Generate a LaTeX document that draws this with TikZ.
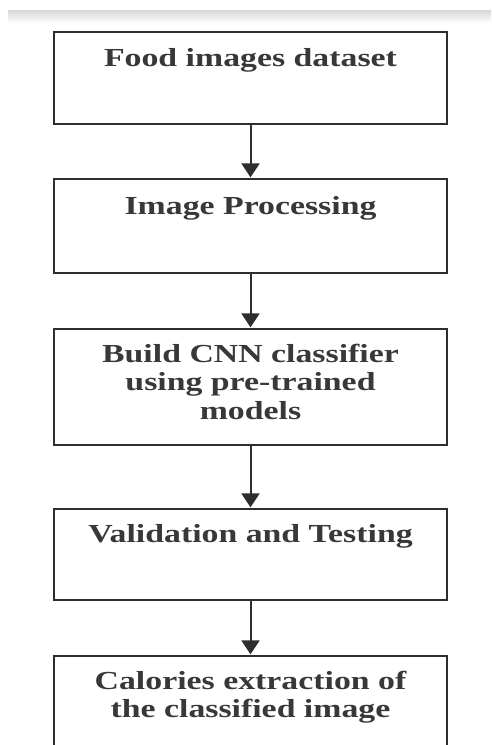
\documentclass[tikz,border=0pt]{standalone}
\usepackage{fontspec}
\setmainfont{Liberation Serif}
\usetikzlibrary{arrows.meta}
\definecolor{ink}{HTML}{2E2E2E}
\definecolor{txt}{HTML}{383838}
\tikzset{
  box/.style={draw=ink, line width=2.3pt, minimum width=393pt, inner sep=0pt, fill=white},
  lbl/.style={anchor=base, inner sep=0pt, text=txt,
    font=\fontsize{26}{28.5}\selectfont\bfseries},
  arr/.style={draw=ink, line width=2pt, -{Triangle[length=14pt,width=18pt]}, shorten >=0.5pt}
}
\newcommand{\wide}[1]{\scalebox{1.30}[1]{\begin{tabular}[t]{@{}c@{}}#1\end{tabular}}}
\begin{document}
\begin{tikzpicture}[x=1pt,y=-1pt]
\useasboundingbox (0,0) rectangle (491,745);
\clip (0,0) rectangle (491,745);
\fill[white] (0,0) rectangle (491,745);
\shade[top color=black!16, bottom color=white] (8,10) rectangle (491,23);
% boxes
\node[box, minimum height=92pt]  (b1) at (250.5,78) {};
\node[box, minimum height=94pt]  (b2) at (250.5,226) {};
\node[box, minimum height=116pt] (b3) at (250.5,387) {};
\node[box, minimum height=91pt]  (b4) at (250.5,554.5) {};
\node[box, minimum height=110pt] (b5) at (250.5,711) {};
% labels
\node[lbl] (t1) at (250.5,66) {\wide{Food images dataset}};
\node[lbl] (t2) at (250.5,214) {\wide{Image Processing}};
\node[lbl] (t3) at (250.5,362) {\wide{Build CNN classifier\\using pre-trained\\models}};
\node[lbl] (t4) at (250.5,542) {\wide{Validation and Testing}};
\node[lbl] (t5) at (250.5,689) {\wide{Calories extraction of\\the classified image}};
% arrows
\draw[arr] (b1.south) -- (b2.north);
\draw[arr] (b2.south) -- (b3.north);
\draw[arr] (b3.south) -- (b4.north);
\draw[arr] (b4.south) -- (b5.north);
\end{tikzpicture}
\end{document}
